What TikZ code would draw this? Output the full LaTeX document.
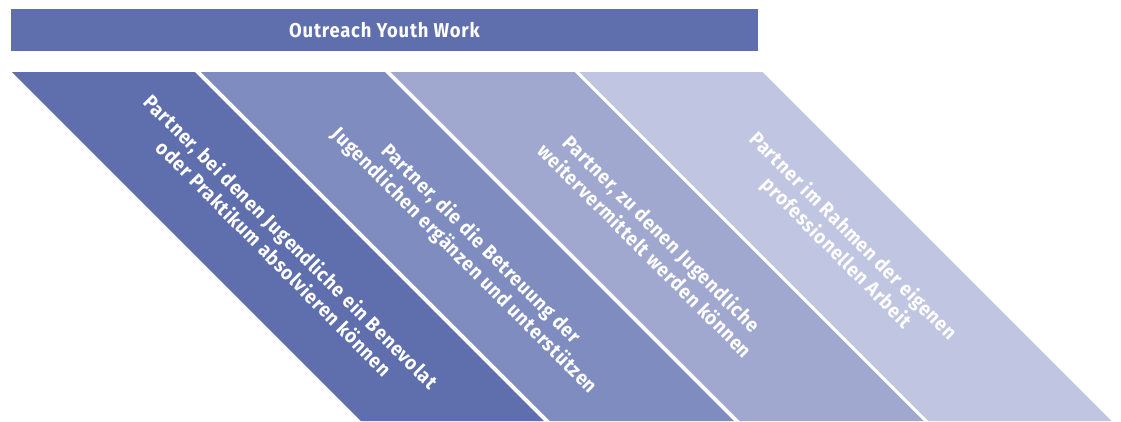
\documentclass[tikz,border=0pt]{standalone}
\usepackage{fontspec}
\setmainfont{Fira Sans}[FakeStretch=0.92,LetterSpace=4]
\definecolor{bandA}{HTML}{5F6FAE}
\definecolor{bandB}{HTML}{7F8CC0}
\definecolor{bandC}{HTML}{A0A8D0}
\definecolor{bandD}{HTML}{C0C5E1}

\begin{document}
\begin{tikzpicture}[x=1pt,y=-1pt,
		txt/.style={text=white,font=\bfseries\fontsize{20}{23.6}\selectfont,inner sep=0pt},
		slant/.style={txt,align=center,rotate=-45}]
		\useasboundingbox (0,0) rectangle (1121,421);
		% header bar
		\fill[bandA] (11,9) rectangle (758,50.7);
		\node[txt,anchor=base] (title) at (384.5,37.5) {Outreach Youth Work};
		% slanted bands
		\fill[bandA] (12,72) -- (195,72) -- (544,421) -- (361,421) -- cycle;
		\fill[bandB] (200.8,72) -- (384.8,72) -- (733.8,421) -- (549.8,421) -- cycle;
		\fill[bandC] (390.6,72) -- (574.6,72) -- (923.6,421) -- (739.6,421) -- cycle;
		\fill[bandD] (579.4,72) -- (762.7,72) -- (1111.7,421) -- (928.4,421) -- cycle;
		% labels
		\node[slant] (partA) at (283,249.5) {Partner, bei denen Jugendliche ein Benevolat\\oder Praktikum absolvieren können};
		\node[slant] (partB) at (472.5,252.5) {Partner, die die Betreuung der\\Jugendlichen ergänzen und unterstützen};
		\node[slant] (partC) at (653.8,241.7) {Partner, zu denen Jugendliche\\weitervermittelt werden können};
		\node[slant] (partD) at (844.6,245) {Partner im Rahmen der eigenen\\professionellen Arbeit};
	\end{tikzpicture}
\end{document}
